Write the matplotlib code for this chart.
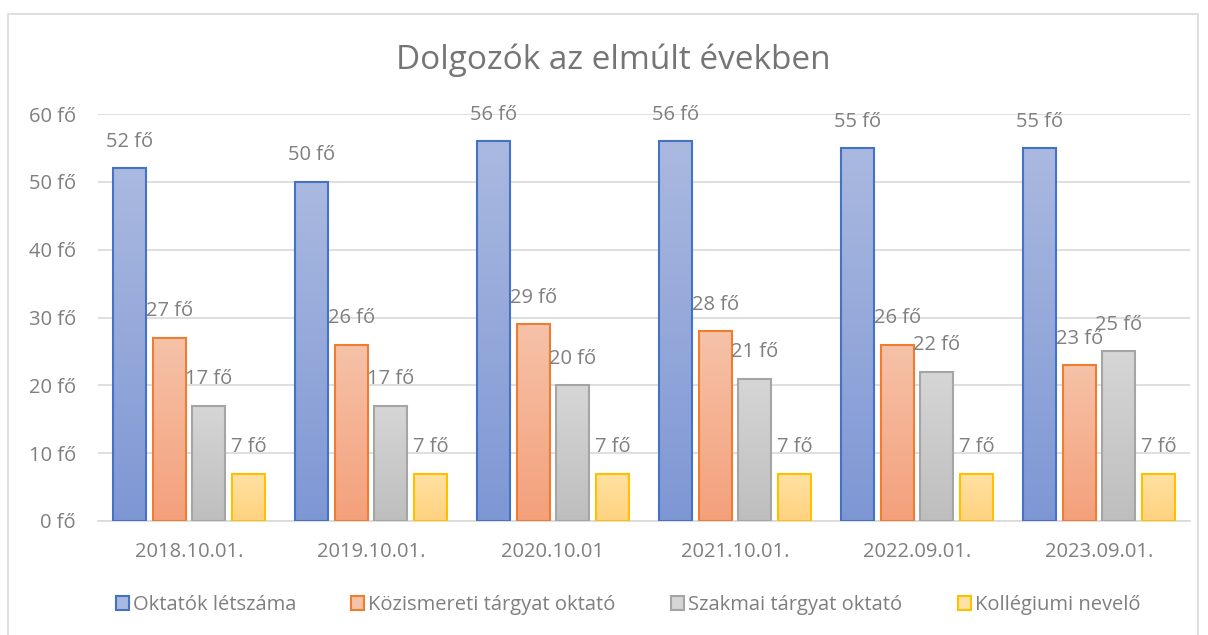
import numpy as np
import matplotlib.pyplot as plt
from matplotlib.patches import Rectangle, Patch
from matplotlib.colors import LinearSegmentedColormap

plt.rcParams['font.family'] = ['Open Sans', 'DejaVu Sans']

dates = ['2018.10.01.', '2019.10.01.', '2020.10.01', '2021.10.01.', '2022.09.01.', '2023.09.01.']
series_names = ['Oktatók létszáma', 'Közismereti tárgyat oktató',
                'Szakmai tárgyat oktató', 'Kollégiumi nevelő']
oktatok = [52, 50, 56, 56, 55, 55]
kozismereti = [27, 26, 29, 28, 26, 23]
szakmai = [17, 17, 20, 21, 22, 25]
kollegiumi = [7, 7, 7, 7, 7, 7]

# (edge, gradient top, gradient bottom)
styles = [('#4472C4', '#AAB9E0', '#7E97D4'),
          ('#ED7D31', '#F6C2A8', '#F4A07B'),
          ('#A5A5A5', '#D6D6D6', '#BEBEBE'),
          ('#FFC000', '#FFE2A3', '#FFD27F')]
text_col = '#7F7F7F'
fs = 14.5

fig = plt.figure(figsize=(12.08, 6.35), dpi=100)
ax = fig.add_axes([98 / 1208, 1 - 521 / 635, (1190 - 98) / 1208, (521 - 114) / 635])

# chart border
fig.patches.append(Rectangle((8 / 1208, -0.05), 1190 / 1208, 1.05 - 14 / 635,
                             transform=fig.transFigure, fill=False,
                             edgecolor='#D9D9D9', linewidth=1.2))

x = np.arange(len(dates))
step = 0.218
width = 0.182
all_series = [oktatok, kozismereti, szakmai, kollegiumi]
grad = np.linspace(0, 1, 256).reshape(-1, 1)

for i, (vals, (edge, top, bottom)) in enumerate(zip(all_series, styles)):
    pos = x + (i - 1.5) * step
    bars = ax.bar(pos, vals, width, color='none', edgecolor=edge, linewidth=1.5, zorder=3)
    cmap = LinearSegmentedColormap.from_list('g%d' % i, [bottom, top])
    for b, v in zip(bars, vals):
        im = ax.imshow(grad, cmap=cmap, origin='lower', aspect='auto',
                       extent=[b.get_x(), b.get_x() + b.get_width(), 0, v], zorder=2)
        im.set_clip_path(b)
        ax.annotate('%d fő' % v, (b.get_x() + b.get_width() / 2, v),
                    xytext=(0, 19), textcoords='offset points',
                    ha='center', va='center', fontsize=fs, color=text_col, zorder=4)

ax.set_xlim(-0.5, len(dates) - 0.5)
ax.set_ylim(0, 60)
ax.set_yticks(range(0, 61, 10))
ax.set_yticklabels(['%d fő' % t for t in range(0, 61, 10)])
ax.set_xticks(x)
ax.set_xticklabels(dates)
ax.tick_params(length=0, labelsize=fs, colors=text_col)
ax.tick_params(axis='y', pad=16)
ax.tick_params(axis='x', pad=15)
ax.grid(axis='y', color='#D9D9D9', linewidth=1.2, zorder=0)
for s in ['top', 'right', 'left']:
    ax.spines[s].set_visible(False)
ax.spines['bottom'].set_color('#D9D9D9')
ax.spines['bottom'].set_linewidth(1.2)

fig.text(613 / 1208, 1 - 60 / 635, 'Dolgozók az elmúlt években', ha='center', va='center',
         fontsize=24, color='#757575')

handles = [Patch(facecolor=top, edgecolor=edge, linewidth=1.5) for edge, top, bottom in styles]
fig.legend(handles, series_names, loc='center', bbox_to_anchor=(628 / 1208, 1 - 605 / 635),
           ncol=4, frameon=False, fontsize=fs, labelcolor=text_col,
           handlelength=0.65, handleheight=0.65, handletextpad=0.2, columnspacing=2.75)

fig.savefig('out.png', dpi=100)
